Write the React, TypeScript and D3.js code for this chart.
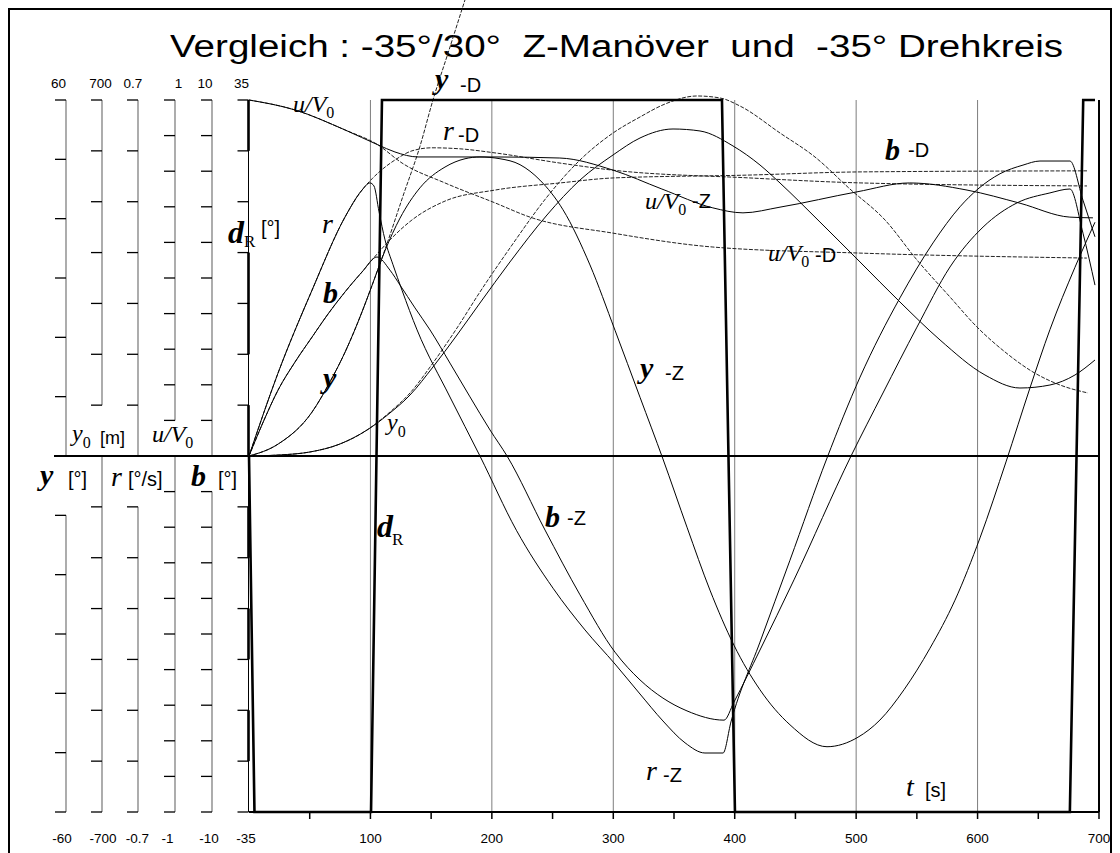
import React from 'react';
import * as d3 from 'd3';

const T_MAX = 700;
const timeLabels = [100, 200, 300, 400, 500, 600, 700];
const gridTimes = [100, 200, 300, 400, 500, 600];
const minorTimes = d3.range(50, 701, 50);

// rudder angle dR [deg], Z-manoeuvre
const rudderT = [0, 4.5, 100.5, 109.5, 389.5, 400.2, 676, 687, 696.7];
const rudderDeg = [0, -35, -35, 35, 35, -35, -35, 35, 35];

// yaw rate r [deg/s]
const rZT = [0, 23.9, 51.9, 79.1, 93.1, 99.6, 102.9, 107.1, 112.0, 118.6, 126.0, 138.4, 165.5, 190.2, 220.2, 250.4, 276.7, 301.4, 322.0, 340.9, 359.1, 375.5, 390.4, 396.9, 420.8, 445.5, 476.0, 503.2, 536.1, 563.3, 585.5, 600.3, 618.5, 637.4, 651.4, 676.1, 686.8, 696.7];
const rZ = [0, 0.163, 0.326, 0.470, 0.523, 0.537, 0.531, 0.480, 0.425, 0.376, 0.326, 0.248, 0.116, 0, -0.146, -0.260, -0.342, -0.409, -0.468, -0.521, -0.564, -0.584, -0.584, -0.523, -0.366, -0.205, -0.004, 0.155, 0.311, 0.419, 0.490, 0.525, 0.555, 0.572, 0.580, 0.580, 0.503, 0.431];
const rDT = [0, 23.9, 51.9, 79.1, 93.1, 101.3, 112.0, 120.2, 134.2, 150.7, 173.8, 202.6, 256.1, 299.8, 410.1, 503.2, 690.1];
const rD = [0, 0.163, 0.326, 0.470, 0.523, 0.545, 0.568, 0.582, 0.600, 0.606, 0.604, 0.596, 0.576, 0.562, 0.547, 0.537, 0.531];

// drift angle b [deg]
const bZT = [0, 12.4, 23.9, 37.9, 51.9, 65.1, 79.1, 93.1, 105.4, 116.1, 124.4, 136.7, 149.1, 165.5, 182.0, 198.5, 212.5, 243.8, 272.6, 301.4, 322.0, 340.9, 360.7, 391.2, 399.4, 420.8, 448.8, 495.8, 522.1, 550.1, 577.3, 604.5, 632.5, 659.6, 676.1, 686.8, 696.7];
const bZ = [0, 1.01, 1.85, 2.64, 3.34, 3.99, 4.61, 5.17, 5.59, 5.22, 4.80, 4.16, 3.54, 2.61, 1.66, 0.73, 0, -2.08, -3.90, -5.51, -6.29, -6.80, -7.16, -7.42, -6.91, -5.45, -3.48, 0, 1.77, 3.62, 5.31, 6.43, 7.11, 7.39, 7.50, 6.26, 4.80];
const bDT = [0, 12.4, 23.9, 37.9, 51.9, 65.1, 79.1, 93.1, 105.4, 116.1, 134.2, 161.4, 202.6, 256.1, 299.8, 410.1, 503.2, 690.1];
const bD = [0, 1.01, 1.85, 2.64, 3.34, 3.99, 4.61, 5.17, 5.67, 6.07, 6.63, 7.16, 7.47, 7.67, 7.81, 7.89, 7.98, 8.01];

// heading psi [deg]
const psiZT = [0, 23.9, 51.9, 66.7, 79.1, 93.1, 100.5, 112.0, 124.4, 140.8, 161.4, 177.9, 190.2, 206.7, 223.2, 239.6, 258.6, 280.8, 301.4, 322.0, 340.9, 360.7, 379.6, 399.4, 420.8, 445.5, 476.0, 501.5, 519.6, 539.4, 560.8, 581.4, 602.0, 623.4, 643.2, 659.6, 680.2, 696.7];
const psiZ = [0, 2.0, 7.4, 12.5, 17.5, 24.3, 28.3, 34.6, 40.1, 45.2, 48.7, 50.1, 50.4, 50.1, 49.1, 46.5, 41.5, 32.2, 21.2, 9.9, -0.5, -12.0, -22.6, -31.9, -39.4, -45.3, -49.0, -47.4, -44.5, -39.4, -32.4, -24.3, -13.8, -1.0, 11.5, 21.3, 31.8, 39.4];
const psiDT = [0, 23.9, 51.9, 66.7, 79.1, 93.1, 100.5, 112.0, 126.8, 140.8, 151.5, 164.7, 177.9];
const psiD = [0, 2.0, 7.4, 12.5, 17.5, 24.3, 28.3, 34.8, 43.8, 52.2, 60.0, 68.4, 76.9];

// lateral deviation y0 [m]
const y0ZT = [0, 25.5, 50.2, 74.9, 97.2, 116.1, 132.6, 151.5, 171.3, 190.2, 214.9, 245.4, 272.6, 299.8, 322.0, 349.2, 371.4, 398.6, 420.8, 437.3, 470.2, 503.2, 536.1, 569.1, 606.1, 634.9, 659.6, 680.2, 696.7];
const y0Z = [0, 2.0, 7.9, 23.6, 51.1, 84.6, 119.9, 175.0, 237.9, 300.8, 381.5, 473.9, 542.7, 591.9, 625.3, 643.0, 639.1, 609.6, 572.2, 536.8, 460.1, 381.5, 302.8, 228.1, 159.3, 133.7, 139.6, 159.3, 188.8];
const y0DT = [0, 25.5, 50.2, 74.9, 97.2, 116.1, 132.6, 151.5, 171.3, 190.2, 214.9, 245.4, 272.6, 299.8, 322.0, 342.6, 368.9, 387.9, 404.3, 437.3, 466.1, 494.9, 523.8, 550.1, 577.3, 599.5, 622.6, 645.6, 667.9, 690.9];
const y0D = [0, 2.0, 7.9, 23.6, 51.1, 86.5, 123.9, 182.9, 251.7, 322.5, 409.0, 509.3, 582.0, 635.1, 666.6, 692.1, 707.9, 704.0, 688.2, 635.1, 587.9, 525.0, 464.0, 385.4, 312.6, 253.7, 204.5, 165.2, 139.6, 123.9];

// speed ratio u/V0
const uZT = [0, 37.9, 79, 106.2, 120.2, 139.2, 202.6, 256, 299.8, 340, 382, 406.8, 437.3, 500.7, 544, 591.3, 635, 676, 695];
const uZ = [1.0, 0.972, 0.916, 0.874, 0.854, 0.84, 0.84, 0.837, 0.803, 0.750, 0.697, 0.683, 0.699, 0.742, 0.767, 0.747, 0.710, 0.671, 0.669];
const uDT = [0, 37.9, 79, 106.2, 126, 161.4, 202.6, 231.4, 299.8, 382, 503, 690];
const uD = [1.0, 0.972, 0.916, 0.874, 0.823, 0.767, 0.711, 0.671, 0.626, 0.587, 0.570, 0.556];

// axis ranges per quantity
const axisMax = { psi: 60, y0: 700, r: 0.7, u: 1, b: 10, d: 35 };
const topLabels = ['60', '700', '0.7', '1', '10', '35'];
const bottomLabels = ['-60', '-700', '-0.7', '-1', '-10', '-35'];

const SANS = 'Liberation Sans, Arial, sans-serif';
const SERIF = 'Liberation Serif, Times New Roman, serif';

const X0 = 249, X1 = 1099, YT = 100, YB = 812;

export default function App() {
  const x = d3.scaleLinear().domain([0, T_MAX]).range([X0, X1]);
  const ys = (m: number) => d3.scaleLinear().domain([-m, m]).range([YB, YT]);
  const yD = ys(axisMax.d), yPsi = ys(axisMax.psi), yY0 = ys(axisMax.y0);
  const yR = ys(axisMax.r), yU = ys(axisMax.u), yB = ys(axisMax.b);
  const y0px = yD(0);

  const mk = (ts: number[], vs: number[], sc: any, curve: any = d3.curveMonotoneX) =>
    d3.line<number>().x((d) => x(d)).y((_, i) => sc(vs[i])).curve(curve)(ts) || '';

  const solid = [
    mk(rZT, rZ, yR), mk(bZT, bZ, yB), mk(psiZT, psiZ, yPsi), mk(y0ZT, y0Z, yY0), mk(uZT, uZ, yU),
  ];
  const dashed = [
    mk(rDT, rD, yR), mk(bDT, bD, yB), mk(psiDT, psiD, yPsi), mk(y0DT, y0D, yY0), mk(uDT, uD, yU),
  ];
  const rudderPath = mk(rudderT, rudderDeg, yD, d3.curveLinear);

  const leftAxes = [
    { ax: 66, sc: yPsi, step: 10, n: 6, up: [0, 60], dn: [-60, -10] },
    { ax: 102, sc: yY0, step: 100, n: 7, up: [100, 700], dn: [-700, 0] },
    { ax: 138, sc: yR, step: 0.1, n: 7, up: [0, 0.7], dn: [-0.7, -0.1] },
    { ax: 175, sc: yU, step: 0.1, n: 10, up: [0.1, 1], dn: [-1, 0] },
    { ax: 212, sc: yB, step: 1, n: 10, up: [0, 10], dn: [-10, -1] },
  ];
  const labelX = [58.5, 100.5, 133, 178.5, 205, 241.5];
  const labelXB = [62, 103, 137.5, 167.5, 209, 246];
  const dAxisX = 248.5;
  const dTicks = d3.range(-7, 8).filter((k) => k !== 0).map((k) => k * 5);
  const dBold = [[35, 30], [20, 10], [5, 0], [-5, -10], [-15, -20], [-25, -30]];

  return (
    <svg width={1120} height={853} style={{ position: 'absolute', left: 0, top: 0, background: '#fff' }}
      fontFamily={SANS}>
      <rect x={0} y={0} width={1120} height={853} fill="#fff" />
      <rect x={9} y={9} width={1102} height={860} fill="none" stroke="#000" strokeWidth={2} />

      <text x={170} y={57} fontSize={31} textLength={893} lengthAdjust="spacingAndGlyphs"
        style={{ whiteSpace: 'pre' }}>Vergleich : -35°/30°  Z-Manöver  und  -35° Drehkreis</text>

      {/* vertical time grid */}
      {gridTimes.map((t) => (
        <line key={'g' + t} x1={x(t)} x2={x(t)} y1={YT} y2={YB} stroke="#7d7d7d" strokeWidth={1} />
      ))}

      {/* left value axes */}
      {leftAxes.map((a, i) => {
        const ticks = d3.range(1, a.n + 1).map((k) => +(k * a.step).toFixed(6));
        const upT = ticks.filter((v) => v >= a.up[0] - 1e-9);
        const dnT = ticks.map((v) => -v).filter((v) => v <= a.dn[1] + 1e-9);
        return (
          <g key={'ax' + i}>
            <line x1={a.ax} x2={a.ax} y1={a.sc(a.up[1])} y2={a.sc(a.up[0])} stroke="#808080" strokeWidth={1.3} />
            <line x1={a.ax} x2={a.ax} y1={a.sc(a.dn[1])} y2={a.sc(a.dn[0])} stroke="#808080" strokeWidth={1.3} />
            {upT.concat(dnT).map((v) => (
              <line key={v} x1={a.ax - 11} x2={a.ax} y1={a.sc(v)} y2={a.sc(v)} stroke="#000" strokeWidth={1.3} />
            ))}
          </g>
        );
      })}

      {/* rudder axis */}
      <line x1={dAxisX} x2={dAxisX} y1={YT} y2={YB} stroke="#000" strokeWidth={1} />
      {dBold.map(([a, b], i) => (
        <line key={'db' + i} x1={dAxisX} x2={dAxisX} y1={yD(a)} y2={yD(b)} stroke="#000" strokeWidth={2.6} />
      ))}
      {dTicks.map((v) => (
        <line key={'dt' + v} x1={dAxisX - 11} x2={dAxisX} y1={yD(v)} y2={yD(v)} stroke="#000" strokeWidth={1.3} />
      ))}

      {/* axis value labels */}
      {topLabels.map((s, i) => (
        <text key={'tl' + i} x={labelX[i]} y={88} fontSize={13.5} textAnchor="middle">{s}</text>
      ))}
      {bottomLabels.map((s, i) => (
        <text key={'bl' + i} x={labelXB[i]} y={843} fontSize={13.5} textAnchor="middle">{s}</text>
      ))}

      {/* time axis */}
      <line x1={X0} x2={X1} y1={YB} y2={YB} stroke="#000" strokeWidth={2} />
      <line x1={X1} x2={X1} y1={YT} y2={YB} stroke="#000" strokeWidth={2} />
      <line x1={54} x2={X1} y1={y0px} y2={y0px} stroke="#000" strokeWidth={2.2} />
      {minorTimes.map((t) => (
        <line key={'mt' + t} x1={x(t)} x2={x(t)} y1={YB} y2={YB + 7} stroke="#000" strokeWidth={1.5} />
      ))}
      {timeLabels.map((t) => (
        <text key={'xl' + t} x={x(t)} y={843} fontSize={13.5} textAnchor="middle">{t}</text>
      ))}

      {/* time histories */}
      {dashed.map((d, i) => (
        <path key={'d' + i} d={d} fill="none" stroke="#222" strokeWidth={1} strokeDasharray="4 1.5" />
      ))}
      {solid.map((d, i) => (
        <path key={'s' + i} d={d} fill="none" stroke="#000" strokeWidth={1} />
      ))}
      <path d={rudderPath} fill="none" stroke="#000" strokeWidth={2.6} strokeLinejoin="miter" />

      {/* curve labels */}
      <g fontFamily={SERIF}>
        <text x={293} y={112} fontSize={24} fontStyle="italic">u/V<tspan fontStyle="normal" fontSize={16} dy={6}>0</tspan></text>
        <text x={435} y={89} fontSize={30} fontStyle="italic" fontWeight="bold">y</text>
        <text x={443} y={140} fontSize={28} fontStyle="italic">r</text>
        <text x={885} y={160} fontSize={30} fontStyle="italic" fontWeight="bold">b</text>
        <text x={645} y={209} fontSize={24} fontStyle="italic">u/V<tspan fontStyle="normal" fontSize={16} dy={6}>0</tspan></text>
        <text x={768} y={261} fontSize={24} fontStyle="italic">u/V<tspan fontStyle="normal" fontSize={16} dy={6}>0</tspan></text>
        <text x={228} y={243} fontSize={32} fontStyle="italic" fontWeight="bold">d</text>
        <text x={244} y={247} fontSize={17}>R</text>
        <text x={322} y={233} fontSize={28} fontStyle="italic">r</text>
        <text x={323} y={303} fontSize={30} fontStyle="italic" fontWeight="bold">b</text>
        <text x={323} y={388} fontSize={30} fontStyle="italic" fontWeight="bold">y</text>
        <text x={387} y={430} fontSize={24} fontStyle="italic">y<tspan fontStyle="normal" fontSize={16} dy={7}>0</tspan></text>
        <text x={640} y={378} fontSize={30} fontStyle="italic" fontWeight="bold">y</text>
        <text x={545} y={527} fontSize={30} fontStyle="italic" fontWeight="bold">b</text>
        <text x={377} y={537} fontSize={32} fontStyle="italic" fontWeight="bold">d</text>
        <text x={392} y={545} fontSize={17}>R</text>
        <text x={646} y={780} fontSize={28} fontStyle="italic">r</text>
        <text x={906} y={796} fontSize={28} fontStyle="italic">t</text>
        <text x={72} y={441} fontSize={24} fontStyle="italic">y<tspan fontStyle="normal" fontSize={16} dy={7}>0</tspan></text>
        <text x={152} y={442} fontSize={24} fontStyle="italic">u/V<tspan fontStyle="normal" fontSize={16} dy={6}>0</tspan></text>
        <text x={40} y={485} fontSize={30} fontStyle="italic" fontWeight="bold">y</text>
        <text x={111} y={486} fontSize={28} fontStyle="italic">r</text>
        <text x={191} y={486} fontSize={30} fontStyle="italic" fontWeight="bold">b</text>
      </g>
      <g fontFamily={SANS} fontSize={20}>
        <text x={460} y={92}>-D</text>
        <text x={458} y={142}>-D</text>
        <text x={908} y={157}>-D</text>
        <text x={692} y={208}>-Z</text>
        <text x={815} y={262}>-D</text>
        <text x={261} y={235}>[°]</text>
        <text x={665} y={380}>-Z</text>
        <text x={567} y={525}>-Z</text>
        <text x={663} y={782}>-Z</text>
        <text x={925} y={797}>[s]</text>
        <text x={100} y={444} fontSize={18}>[m]</text>
        <text x={68} y={486}>[°]</text>
        <text x={128} y={486}>[°/s]</text>
        <text x={218} y={486}>[°]</text>
      </g>
    </svg>
  );
}
